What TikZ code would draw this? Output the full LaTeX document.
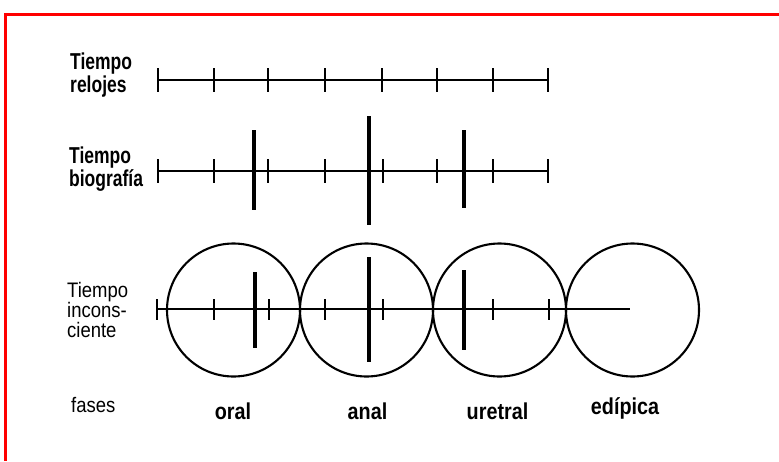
\documentclass[tikz,border=0pt]{standalone}
\usepackage{fontspec}
\newfontfamily\labfont[FakeStretch=0.76]{Liberation Sans}
\newfontfamily\regfont[FakeStretch=0.88]{Liberation Sans}
\newfontfamily\phfont[FakeStretch=0.86]{Liberation Sans}
\begin{document}
\begin{tikzpicture}[x=1pt,y=-1pt,
  axis/.style={line width=2pt},
  smalltick/.style={line width=2.5pt},
  bigtick/.style={line width=3.8pt},
  phase/.style={draw, circle, line width=2.1pt, minimum size=133pt, inner sep=0pt},
  labbold/.style={align=left, anchor=north west, inner sep=0pt, font=\labfont\bfseries\fontsize{23}{20}\selectfont},
  labreg/.style={align=left, anchor=north west, inner sep=0pt, font=\regfont\fontsize{21}{19.5}\selectfont},
  phaselab/.style={anchor=base, inner sep=0pt, font=\phfont\bfseries\fontsize{23}{23}\selectfont}]
\useasboundingbox (0,0) rectangle (779,461);
\fill[white] (0,0) rectangle (779,461);
% red frame
\draw[red, line width=2.8pt, line join=miter] (779,14.5) -- (5.5,14.5) -- (5.5,461);

% labels
\node[labbold] (l1) at (70,53) {Tiempo\\relojes};
\node[labbold] (l2) at (69,147) {Tiempo\\biografía};
\node[labreg] (l3) at (67,282) {Tiempo\\incons-\\ciente};
\node[anchor=base west, inner sep=0pt, font=\regfont\fontsize{21}{21}\selectfont] (l4) at (71,412) {fases};

% row 1
\coordinate (a1) at (158,80); \coordinate (b1) at (548,80);
\draw[axis] (a1) -- (b1);
\foreach \x in {158,214,268,325,382,437,493,548}
  \draw[smalltick] (\x,68) -- (\x,92);

% row 2
\coordinate (a2) at (158,171); \coordinate (b2) at (548,171);
\draw[axis] (a2) -- (b2);
\foreach \x in {158,214,268,325,383,437,493,548}
  \draw[smalltick] (\x,159) -- (\x,183);
\draw[bigtick] (254,130) -- (254,210);
\draw[bigtick] (369,116) -- (369,225);
\draw[bigtick] (464,130) -- (464,208);

% row 3 circles
\node[phase] (c1) at (233.5,310) {};
\node[phase] (c2) at (366.5,310) {};
\node[phase] (c3) at (499.5,310) {};
\node[phase] (c4) at (632.5,310) {};

\coordinate (a3) at (157,309); \coordinate (b3) at (630,309);
\draw[axis] (a3) -- (b3);
\foreach \x in {157,214,269,325,383,493,549}
  \draw[smalltick] (\x,299) -- (\x,320);
\draw[bigtick] (255,272) -- (255,348);
\draw[bigtick] (369,257) -- (369,362);
\draw[bigtick] (464,270) -- (464,350);

% phases
\node[phaselab] (p1) at (233,419) {oral};
\node[phaselab] (p2) at (367.5,419) {anal};
\node[phaselab] (p3) at (497.5,419) {uretral};
\node[phaselab] (p4) at (625,414) {edípica};
\end{tikzpicture}
\end{document}
